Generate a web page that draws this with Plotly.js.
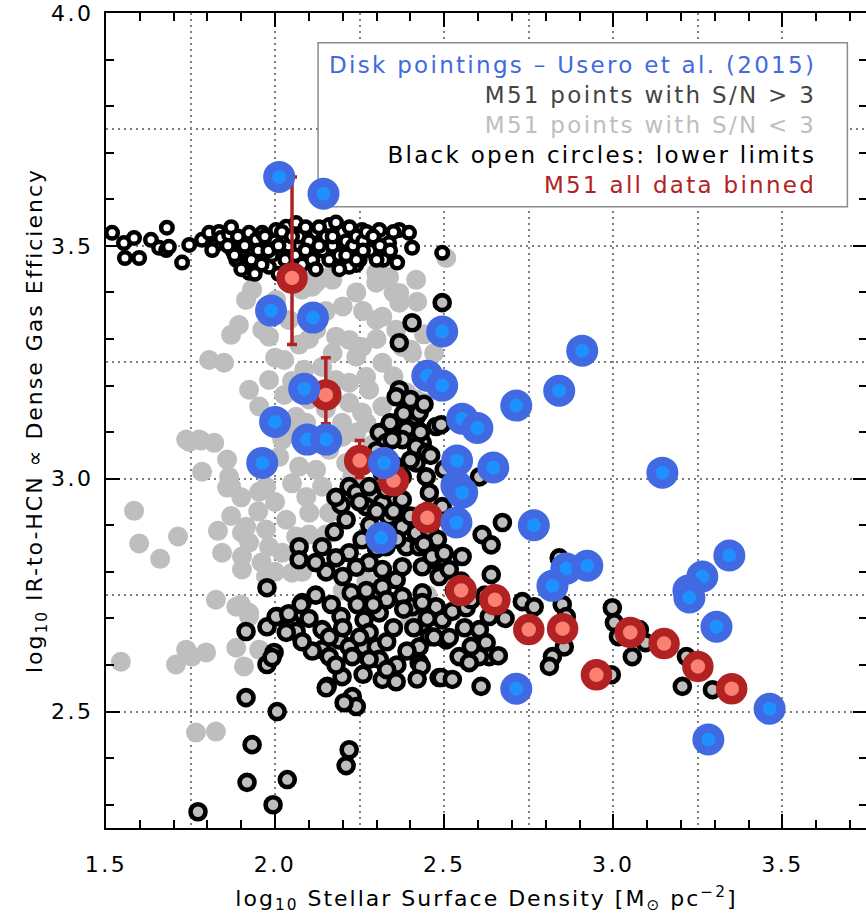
<!DOCTYPE html>
<html>
<head>
<meta charset="utf-8">
<script src="https://cdn.plot.ly/plotly-3.0.1.min.js"></script>
<style>
  html, body { margin: 0; padding: 0; overflow: hidden; background: #fff; }
  #chart { width: 870px; height: 919px; }
  #chart .x2tick text, #chart .y2tick text { letter-spacing: 2.5px; }
</style>
</head>
<body>
<div id="chart"></div>
<script>
// ---- Data ----
// Usero et al. (2015) disk pointings
const blueX = [2.012,2.143,1.988,2.112,2.086,2.000,2.095,2.151,1.962,2.322,2.314,2.494,2.450,2.494,2.553,2.598,2.713,2.840,2.908,2.538,2.536,2.553,2.536,2.645,2.765,3.145,2.861,2.923,2.820,3.263,3.222,3.225,3.343,3.305,2.713,3.462,3.281];
const blueY = [3.648,3.612,3.361,3.346,3.193,3.122,3.084,3.084,3.034,3.034,2.873,3.316,3.221,3.200,3.129,3.109,3.157,3.189,3.275,3.039,2.985,2.970,2.906,3.024,2.900,3.013,2.807,2.813,2.770,2.790,2.760,2.745,2.835,2.682,2.549,2.506,2.440];

// M51 all data binned
const binX = [2.05,2.15,2.25,2.35,2.45,2.55,2.65,2.75,2.85,2.95,3.05,3.15,3.25,3.35];
const binY = [3.431,3.180,3.039,2.996,2.916,2.760,2.740,2.676,2.678,2.579,2.670,2.646,2.597,2.549];
const binErrPlus  = [0.217,0.080,0.043,0.030,0.020,0.020,0.020,0.020,0.020,0.020,0.020,0.020,0.020,0.020];
const binErrMinus = [0.143,0.062,0.037,0.030,0.020,0.020,0.020,0.020,0.020,0.020,0.020,0.020,0.020,0.020];

// M51 points with S/N < 3 (light grey filled)
const lowX = [1.583,1.598,1.660,1.713,1.746,1.781,1.820,1.858,1.784,1.864,1.858,1.831,1.843,1.902,1.902,1.902,1.825,1.899,1.544,1.707,1.737,1.754,1.796,1.885,1.908,1.766,1.825,1.923,1.953,1.870,1.953,1.973,2.012,1.914,1.923,1.973,1.982,2.033,2.062,2.021,2.050,1.973,1.885,1.923,2.092,2.139,2.101,2.160,2.180,2.210,2.228,2.121,2.071,2.021,2.041,2.092,1.932,1.914,1.962,1.982,1.805,1.849,1.923,1.953,2.121,2.180,2.219,2.257,2.240,2.139,2.180,2.219,2.269,2.317,2.278,2.219,2.257,2.317,2.198,2.062,2.021,1.775,1.737,2.160,2.121,2.417,2.337,2.299,2.367,2.317,2.358,2.299,2.405,2.376,2.447,2.417,2.388,2.456,2.080,2.092,2.506,2.367,2.299,2.169,2.109,2.402,2.441,2.003,2.041,2.071,2.027,2.086,1.982,2.027,1.893,1.870,2.240,2.287,2.160,2.300,2.350,2.420,2.270,2.450,2.400,2.200,
  2.00,2.05,1.95,2.10,2.15,1.96,2.00,2.08,1.87,1.90,2.25,2.20,2.27,2.32,2.35,2.30,2.26,2.20,2.15,2.10,2.17,2.05,2.10,2.15,2.00,2.24,2.35,2.42,2.44,2.47];
const lowY = [2.931,2.861,2.828,2.876,3.079,3.082,3.077,3.041,3.015,3.004,2.981,2.888,2.841,2.884,2.833,2.805,2.740,2.730,2.607,2.601,2.633,2.618,2.627,2.637,2.597,2.455,2.457,2.712,2.633,2.983,2.972,2.983,3.047,2.897,2.863,2.891,2.854,2.912,2.876,2.841,2.798,2.790,2.725,2.704,2.961,2.983,2.927,2.927,2.955,3.034,3.004,3.019,3.026,3.084,3.112,3.120,3.406,3.384,3.320,3.305,3.255,3.249,3.191,3.155,3.320,3.305,3.298,3.283,3.262,3.240,3.212,3.206,3.219,3.249,3.191,3.163,3.142,3.155,3.120,3.133,3.105,3.084,3.084,3.433,3.421,3.427,3.433,3.421,3.378,3.348,3.320,3.341,3.270,3.283,3.234,3.170,3.185,3.206,3.406,3.433,3.474,3.399,3.442,3.427,3.412,3.277,3.163,3.384,3.341,3.288,3.255,3.234,3.212,3.180,3.330,3.309,3.099,3.073,3.062,2.950,2.880,2.920,2.780,2.750,2.700,2.760,
  2.95,2.99,2.93,2.88,2.88,2.82,2.80,2.80,2.92,2.96,3.05,3.09,3.12,3.10,3.22,3.30,3.36,3.37,3.36,3.30,3.27,3.21,3.17,3.15,3.26,3.40,3.40,3.38,3.31,3.27];

// M51 points with S/N > 3 (black ring, grey centre)
const detX = [2.494,2.405,2.367,2.367,2.358,2.417,2.358,2.388,2.308,2.328,2.476,2.417,2.376,2.435,2.219,2.195,2.210,2.175,2.139,2.071,2.071,2.151,1.976,2.080,2.006,1.976,1.914,2.047,2.062,2.139,2.166,2.195,2.225,2.243,2.263,2.278,2.308,2.139,2.160,2.189,2.219,2.228,2.263,2.299,2.308,2.278,2.198,2.154,2.228,2.240,2.204,2.317,2.358,1.914,2.006,1.976,1.997,2.426,2.456,2.426,2.485,2.506,2.257,2.219,2.278,2.317,2.317,2.358,2.376,2.405,2.435,2.476,2.494,2.328,2.388,2.426,2.464,2.494,2.269,2.317,2.240,2.278,2.328,2.376,2.337,2.376,2.417,2.456,2.435,2.376,2.317,2.376,2.417,2.447,2.456,2.494,2.346,2.417,2.447,2.426,2.491,2.604,2.672,2.612,2.639,2.464,2.553,2.485,2.515,2.639,2.435,2.524,2.565,2.633,2.604,2.624,2.633,2.604,2.544,2.574,2.515,2.432,2.491,2.524,2.609,2.731,2.766,2.840,2.849,2.861,2.820,2.811,2.855,2.997,3.003,3.015,3.038,3.077,3.095,3.056,2.994,3.216,3.204,3.293,2.003,2.033,2.077,1.991,1.932,1.917,2.036,1.994,1.772,2.151,2.219,2.210,
  2.18,2.25,2.30,2.35,2.28,2.32,2.40,2.45,2.48,2.44,2.36,2.30,2.24,2.27,2.33,2.38,2.45,2.41,2.47,2.35,2.29,2.20,2.12,2.10,2.16,2.20,2.25,2.33,2.39,2.36,2.33,2.42,2.26,2.18,2.11,2.08,2.04,2.12,2.18,2.35,2.40,2.43,2.38,2.40,2.44,2.34,2.30,2.46,2.50,2.52,2.50,2.53,2.56,2.58,2.55,2.58,2.62,2.68,2.66];
const detY = [3.378,3.335,3.292,3.191,3.176,3.133,3.120,3.105,3.099,3.077,3.112,3.084,3.084,3.077,2.983,2.944,2.912,2.886,2.854,2.854,2.826,2.800,2.766,2.734,2.704,2.682,2.672,2.691,2.672,2.676,2.730,2.704,2.755,2.730,2.697,2.670,2.712,2.633,2.618,2.654,2.639,2.618,2.639,2.639,2.612,2.612,2.575,2.554,2.532,2.511,2.519,2.569,2.564,2.530,2.500,2.601,2.627,2.639,2.661,2.605,2.573,2.654,2.869,2.841,2.820,2.805,2.768,2.783,2.747,2.725,2.755,2.725,2.697,2.854,2.854,2.854,2.826,2.798,2.940,2.948,2.970,2.983,2.976,2.955,2.918,2.897,2.884,2.891,2.811,2.811,3.013,3.004,3.034,3.004,2.970,2.940,3.084,3.069,3.056,3.142,3.116,3.004,2.906,2.880,2.858,2.833,2.833,2.790,2.805,2.794,2.734,2.715,2.723,2.704,2.676,2.648,2.618,2.618,2.618,2.605,2.659,2.597,2.573,2.569,2.554,2.736,2.725,2.830,2.730,2.704,2.618,2.597,2.639,2.723,2.691,2.661,2.676,2.676,2.648,2.618,2.579,2.618,2.554,2.547,2.704,2.670,2.730,2.616,2.429,2.348,2.354,2.300,2.285,2.551,2.418,2.384,
  2.96,2.95,2.93,2.93,2.90,2.88,2.92,2.93,2.87,2.86,2.87,2.85,2.81,2.76,2.74,2.72,2.70,2.68,2.66,2.68,2.73,2.79,2.75,2.70,2.66,2.68,2.66,2.65,2.63,2.60,2.59,2.57,2.58,2.60,2.63,2.65,2.71,2.82,2.83,3.03,3.04,3.10,3.14,3.17,3.16,3.12,3.06,3.05,3.02,2.99,2.84,2.76,2.68,2.64,2.78,2.74,2.75,2.70,2.62];

// Black open circles: lower limits
const limX = [1.518,1.553,1.583,1.556,1.598,1.633,1.657,1.678,1.680,1.725,1.746,1.784,1.805,1.825,1.834,1.814,1.686,1.840,1.864,1.873,1.885,1.902,1.923,1.923,1.944,1.962,1.982,2.003,1.982,2.012,2.033,2.050,2.062,2.080,2.101,2.121,2.139,2.160,2.180,2.198,2.219,2.240,2.219,2.257,2.269,2.308,2.328,2.337,2.367,2.396,2.405,2.361,2.299,2.494,1.87,1.89,1.91,1.93,1.95,1.96,1.97,1.99,2.00,2.02,2.03,2.04,2.06,2.07,2.08,2.09,2.10,2.11,2.13,2.14,2.15,2.16,2.17,2.18,2.19,2.20,2.21,2.22,2.23,2.24,2.25,2.26,2.27,2.28,2.29,2.31,2.32,2.34,2.35,1.90,1.94,2.05,2.12,2.19,1.88,1.86,2.01,2.24,
  1.98,2.01,2.05,2.09,2.13,2.17,2.21,2.26,2.30];
const limY = [3.528,3.506,3.517,3.474,3.474,3.513,3.496,3.491,3.539,3.464,3.502,3.513,3.528,3.502,3.530,3.491,3.498,3.517,3.524,3.491,3.470,3.491,3.442,3.528,3.513,3.528,3.506,3.534,3.455,3.491,3.541,3.519,3.549,3.528,3.491,3.528,3.513,3.545,3.528,3.506,3.485,3.459,3.455,3.534,3.491,3.534,3.491,3.506,3.534,3.528,3.496,3.464,3.476,3.485,3.54,3.52,3.50,3.47,3.49,3.46,3.52,3.48,3.51,3.53,3.47,3.50,3.48,3.52,3.46,3.54,3.51,3.47,3.54,3.49,3.52,3.47,3.50,3.55,3.48,3.53,3.51,3.54,3.50,3.52,3.47,3.51,3.53,3.49,3.52,3.50,3.47,3.49,3.53,3.45,3.44,3.45,3.45,3.45,3.48,3.50,3.44,3.47,
  3.49,3.50,3.52,3.49,3.50,3.52,3.48,3.49,3.47];

const legendLines = [
  {text: "Disk pointings \u2013 Usero et al. (2015)", color: "#4169E1"},
  {text: "M51 points with S/N > 3", color: "#444444"},
  {text: "M51 points with S/N < 3", color: "#BEBEBE"},
  {text: "Black open circles: lower limits", color: "#000000"},
  {text: "M51 all data binned", color: "#B22222"}
];

// ---- Traces ----
const FONT = "DejaVu Sans, Arial, sans-serif";
const traces = [
  {type: "scatter", mode: "markers", x: lowX, y: lowY, name: "M51 points with S/N < 3",
   marker: {size: 20, color: "#BEBEBE", line: {width: 0}}, hoverinfo: "x+y"},
  {type: "scatter", mode: "markers", x: limX, y: limY, name: "Black open circles: lower limits",
   marker: {size: 11.5, color: "#FFFFFF", line: {width: 4.5, color: "#000000"}}, hoverinfo: "x+y"},
  {type: "scatter", mode: "markers", x: detX, y: detY, name: "M51 points with S/N > 3",
   marker: {size: 15, color: "#BEBEBE", line: {width: 4.6, color: "#000000"}}, hoverinfo: "x+y"},
  {type: "scatter", mode: "markers", x: binX, y: binY, name: "M51 all data binned",
   error_y: {type: "data", symmetric: false, array: binErrPlus, arrayminus: binErrMinus,
             color: "#B22222", thickness: 3.5, width: 5},
   marker: {size: 23, color: "#FA8072", line: {width: 8.5, color: "#B22222"}}, hoverinfo: "x+y"},
  {type: "scatter", mode: "markers", x: blueX, y: blueY, name: "Disk pointings - Usero et al. (2015)",
   marker: {size: 23, color: "#1E90FF", line: {width: 9, color: "#4169E1"}}, hoverinfo: "x+y"},
  // empty trace that carries the frame / tick axes
  {type: "scatter", mode: "markers", x: [], y: [], xaxis: "x2", yaxis: "y2", showlegend: false, hoverinfo: "skip"}
];

const XR = [1.5, 3.75], YR = [2.25, 4.0];
const gridDash = "2px,4px";
const sp = (t, s) => '<span style="letter-spacing:' + s + 'px">' + t + '</span>';

const layout = {
  width: 870, height: 919,
  margin: {l: 106, r: 3, t: 13, b: 91},
  paper_bgcolor: "#FFFFFF", plot_bgcolor: "#FFFFFF",
  showlegend: false,
  font: {family: FONT, size: 22, color: "#000"},
  xaxis: {range: XR, dtick: 0.25, tick0: 0, showgrid: true, gridcolor: "#808080", gridwidth: 1.5,
          griddash: gridDash, ticks: "", showticklabels: false, showline: false, zeroline: false},
  yaxis: {range: YR, dtick: 0.25, tick0: 0, showgrid: true, gridcolor: "#808080", gridwidth: 1.5,
          griddash: gridDash, ticks: "", showticklabels: false, showline: false, zeroline: false},
  xaxis2: {overlaying: "x", anchor: "y2", side: "bottom", range: XR, dtick: 0.5, tick0: 0,
           tickformat: ".1f", ticks: "inside", ticklen: 14, tickwidth: 2, tickcolor: "#000",
           showline: true, linewidth: 2, linecolor: "#000", mirror: "allticks",
           showgrid: false, zeroline: false, ticklabelstandoff: 16,
           tickfont: {family: FONT, size: 22, color: "#000"},
           minor: {dtick: 0.1, tick0: 0, ticks: "inside", ticklen: 8, tickwidth: 2, tickcolor: "#000", showgrid: false},
           title: {text: sp("log<sub>10</sub> Stellar Surface Density [M<sub>\u2299</sub> pc<sup>\u22122</sup>]", 2),
                   font: {family: FONT, size: 22, color: "#000"}, standoff: 14}},
  yaxis2: {overlaying: "y", anchor: "x2", side: "left", range: YR, dtick: 0.5, tick0: 0,
           tickformat: ".1f", ticks: "inside", ticklen: 14, tickwidth: 2, tickcolor: "#000",
           showline: true, linewidth: 2, linecolor: "#000", mirror: "allticks",
           showgrid: false, zeroline: false, ticklabelstandoff: 6,
           tickfont: {family: FONT, size: 22, color: "#000"},
           minor: {dtick: 0.1, tick0: 0, ticks: "inside", ticklen: 8, tickwidth: 2, tickcolor: "#000", showgrid: false},
           title: {text: sp("log<sub>10</sub> IR-to-HCN \u221D Dense Gas Efficiency", 2),
                   font: {family: FONT, size: 22, color: "#000"}, standoff: 10}},
  shapes: [
    {type: "rect", xref: "x", yref: "y", x0: 2.127, x1: 3.692, y0: 3.584, y1: 3.936,
     layer: "between", fillcolor: "#FFFFFF", line: {color: "#8c8c8c", width: 1.5}}
  ],
  annotations: [
    {xref: "paper", yref: "paper", x: 0.936, y: 0.8626, xanchor: "right", yanchor: "middle",
     align: "right", showarrow: false,
     font: {family: FONT, size: 23},
     text: legendLines.map(l => '<span style="color:' + l.color + ';letter-spacing:2.3px">' + l.text + '</span>').join("<br>")}
  ]
};

Plotly.newPlot("chart", traces, layout, {displayModeBar: false, responsive: false});
</script>
</body>
</html>
